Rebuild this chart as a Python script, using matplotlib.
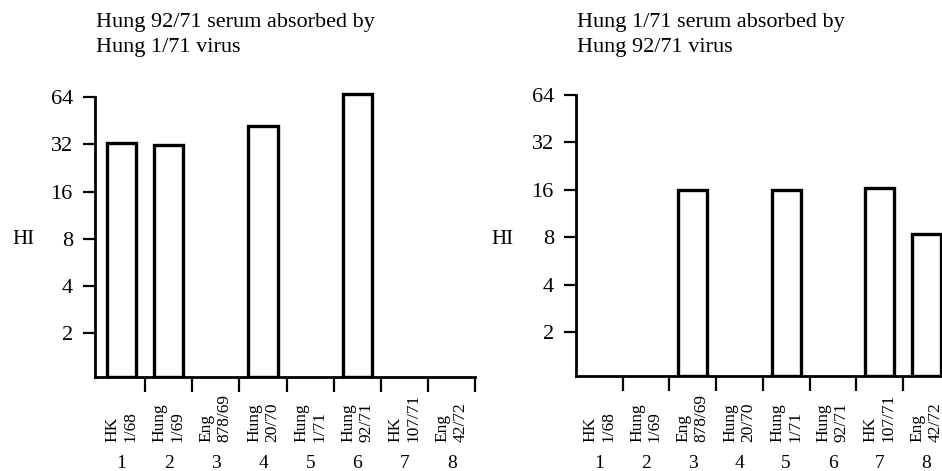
import numpy as np
import matplotlib
matplotlib.use("Agg")
import matplotlib.pyplot as plt
from matplotlib import transforms

plt.rcParams['font.family'] = ['Liberation Serif', 'DejaVu Serif']

# dati (0 = nessuna barra)
ceppi = ['HK\n1/68', 'Hung\n1/69', 'Eng\n878/69', 'Hung\n20/70',
         'Hung\n1/71', 'Hung\n92/71', 'HK\n107/71', 'Eng\n42/72']
numeri = ['1', '2', '3', '4', '5', '6', '7', '8']
hi_sinistra = [32.5, 31.5, 0, 42, 0, 67, 0, 0]
hi_destra = [0, 0, 16, 0, 16, 0, 16.5, 8.4]
titolo_sinistra = 'Hung 92/71 serum absorbed by\nHung 1/71 virus'
titolo_destra = 'Hung 1/71 serum absorbed by\nHung 92/71 virus'
yticks = [2, 4, 8, 16, 32, 64]

W, H = 942, 471
BASE = 1.05
TOP = 70


def pannello(fig, left_px, baseline_px, unit_px, dbl_px, xmin, valori, titolo, title_x_px, hi_x_px):
    xmax = 8.5
    right_px = left_px + (xmax - xmin) * unit_px
    top_px = baseline_px - np.log2(TOP / BASE) * dbl_px
    ax = fig.add_axes([left_px / W, (H - baseline_px) / H,
                       (right_px - left_px) / W, (baseline_px - top_px) / H])
    ax.set_yscale('log', base=2)
    ax.set_ylim(BASE, TOP)
    ax.set_xlim(xmin, xmax)
    ax.patch.set_visible(False)

    x = np.arange(1, 9)
    for xi, v in zip(x, valori):
        if v > 0:
            ax.bar(xi, v - BASE, bottom=BASE, width=0.62, fill=False,
                   edgecolor='black', linewidth=2.4)

    for s in ['top', 'right']:
        ax.spines[s].set_visible(False)
    ax.spines['left'].set_bounds(BASE, 64)
    ax.spines['left'].set_linewidth(2.0)
    ax.spines['bottom'].set_linewidth(2.0)

    ax.set_yticks(yticks)
    ax.set_yticklabels([str(t) for t in yticks], fontsize=16)
    ax.yaxis.set_minor_locator(matplotlib.ticker.NullLocator())
    ax.tick_params(axis='y', length=9, width=1.6, pad=7)
    ax.set_xticks(np.arange(1.5, 9, 1.0))
    ax.set_xticklabels([])
    ax.tick_params(axis='x', length=11, width=1.6)

    tr = transforms.blended_transform_factory(ax.transData, fig.transFigure)
    for xi, lab, n in zip(x, ceppi, numeri):
        ax.text(xi, 1 - 442 / H, lab, transform=tr, rotation=90, ha='center',
                va='bottom', multialignment='left', fontsize=12.5, linespacing=1.15)
        ax.text(xi, 1 - 464 / H, n, transform=tr, ha='center', va='center', fontsize=14)

    fig.text(title_x_px / W, 1 - 13 / H, titolo, ha='left', va='top', fontsize=16, linespacing=1.42)
    fig.text(hi_x_px / W, 1 - 240 / H, 'HI', ha='left', va='center', fontsize=15)
    return ax


fig = plt.figure(figsize=(9.42, 4.71), dpi=100)
pannello(fig, 95, 377, 47.2, 47.2, 0.44, hi_sinistra, titolo_sinistra, 96, 12)
pannello(fig, 576, 376, 46.7, 47.4, 0.5, hi_destra, titolo_destra, 577, 491)
fig.savefig('out.png', dpi=100)
